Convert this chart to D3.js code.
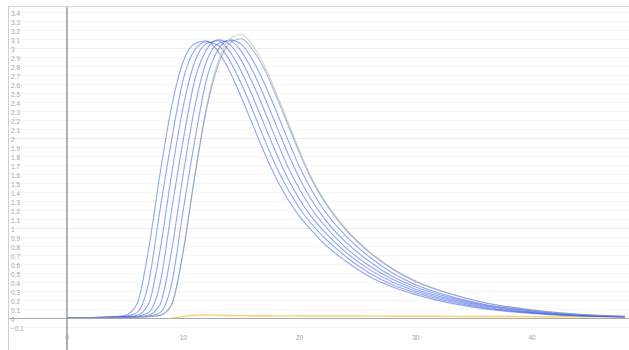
<!DOCTYPE html>
<html>
<head>
<meta charset="utf-8">
<script src="https://cdn.jsdelivr.net/npm/d3@7"></script>
<style>
  html, body { margin: 0; padding: 0; background: #fff; }
  svg { display: block; font-family: "Liberation Sans", Arial, sans-serif; }
</style>
</head>
<body>
<svg id="chart" width="629" height="350"></svg>
<script>
// Shared sample positions along the horizontal axis
const xs = [0, 2, 4, 5, 6, 7, 8, 9, 10, 11, 12, 13, 14, 15, 16, 17, 18, 19, 20, 21, 22, 24, 26, 28, 30, 33, 36, 40, 44, 48];

// Response curves
const seriesA = [0.005, 0.006, 0.015, 0.03, 0.15, 0.75, 1.6, 2.35, 2.85, 3.05, 3.08, 2.96, 2.74, 2.45, 2.14, 1.83, 1.55, 1.32, 1.13, 0.98, 0.84, 0.63, 0.46, 0.345, 0.26, 0.165, 0.1, 0.05, 0.022, 0.011];
const seriesB = [0.005, 0.005, 0.01, 0.02, 0.06, 0.38, 1.2, 1.98, 2.65, 2.98, 3.07, 3.03, 2.86, 2.6, 2.3, 1.98, 1.68, 1.43, 1.22, 1.05, 0.91, 0.68, 0.5, 0.37, 0.28, 0.18, 0.11, 0.055, 0.025, 0.012];
const seriesC = [0.005, 0.005, 0.01, 0.015, 0.03, 0.15, 0.75, 1.6, 2.35, 2.85, 3.05, 3.08, 2.96, 2.74, 2.45, 2.14, 1.83, 1.55, 1.32, 1.13, 0.98, 0.73, 0.54, 0.4, 0.3, 0.195, 0.12, 0.06, 0.028, 0.013];
const seriesD = [0.005, 0.005, 0.008, 0.01, 0.02, 0.06, 0.38, 1.2, 1.98, 2.65, 2.98, 3.09, 3.04, 2.86, 2.6, 2.3, 1.98, 1.68, 1.43, 1.22, 1.05, 0.78, 0.58, 0.43, 0.32, 0.21, 0.13, 0.065, 0.03, 0.014];
const seriesE = [0.005, 0.005, 0.006, 0.01, 0.015, 0.03, 0.15, 0.75, 1.6, 2.35, 2.85, 3.05, 3.08, 2.96, 2.74, 2.45, 2.14, 1.83, 1.55, 1.32, 1.13, 0.84, 0.63, 0.46, 0.345, 0.225, 0.14, 0.075, 0.034, 0.016];
const seriesF = [0.005, 0.005, 0.005, 0.008, 0.01, 0.02, 0.06, 0.38, 1.2, 1.98, 2.65, 2.98, 3.09, 3.04, 2.86, 2.6, 2.3, 1.98, 1.68, 1.43, 1.22, 0.91, 0.68, 0.5, 0.37, 0.24, 0.15, 0.08, 0.038, 0.017];
const seriesG = [0.005, 0.005, 0.005, 0.006, 0.01, 0.015, 0.03, 0.15, 0.75, 1.6, 2.35, 2.85, 3.1, 3.15, 3.02, 2.8, 2.5, 2.18, 1.86, 1.57, 1.34, 0.99, 0.74, 0.55, 0.41, 0.27, 0.17, 0.09, 0.042, 0.019];
// Low baseline trace
const baseline = [null, null, null, null, null, null, null, 0.0, 0.015, 0.03, 0.035, 0.03, 0.028, 0.026, 0.025, 0.025, 0.024, 0.024, 0.023, 0.023, 0.022, 0.022, 0.021, 0.02, 0.02, 0.018, 0.017, 0.015, 0.013, 0.012];

const yTicks = [-0.1, 0, 0.1, 0.2, 0.3, 0.4, 0.5, 0.6, 0.7, 0.8, 0.9, 1, 1.1, 1.2, 1.3, 1.4, 1.5, 1.6, 1.7, 1.8, 1.9, 2, 2.1, 2.2, 2.3, 2.4, 2.5, 2.6, 2.7, 2.8, 2.9, 3, 3.1, 3.2, 3.3, 3.4];
const xTicks = [0, 10, 20, 30, 40];

const svg = d3.select("#chart");
const W = 629, H = 350;

const x = d3.scaleLinear().domain([0, 40]).range([67, 532]);
const y = d3.scaleLinear().domain([0, 3]).range([318, 48]);

// Frame
svg.append("line").attr("x1", 8.5).attr("x2", 8.5).attr("y1", 6.5).attr("y2", H)
  .attr("stroke", "#cfcfcf").attr("stroke-width", 1);
svg.append("line").attr("x1", 8).attr("x2", W).attr("y1", 6.5).attr("y2", 6.5)
  .attr("stroke", "#d6d6d6").attr("stroke-width", 1);

// Horizontal gridlines
svg.append("g").selectAll("line").data(yTicks.filter(d => d !== 0)).join("line")
  .attr("x1", 9).attr("x2", W)
  .attr("y1", d => Math.round(y(d)) + 0.5).attr("y2", d => Math.round(y(d)) + 0.5)
  .attr("stroke", d => Number.isInteger(d) ? "#ececec" : "#f6f6f6")
  .attr("stroke-width", 1);

// Y tick labels
svg.append("g").selectAll("text").data(yTicks).join("text")
  .attr("x", 11).attr("y", d => y(d) + 2.5)
  .attr("dominant-baseline", "middle")
  .attr("font-size", 6.5).attr("fill", "#a8a8a8")
  .text(d => d3.format("~g")(d));

// X tick labels
svg.append("g").selectAll("text").data(xTicks).join("text")
  .attr("x", d => x(d)).attr("y", 338)
  .attr("text-anchor", "middle").attr("dominant-baseline", "middle")
  .attr("font-size", 6.5).attr("fill", "#a0a0a0")
  .text(d => d);

// Axes lines
svg.append("line").attr("x1", 9).attr("x2", W).attr("y1", y(0) + 0.5).attr("y2", y(0) + 0.5)
  .attr("stroke", "#a9a9a9").attr("stroke-width", 1.2);
svg.append("line").attr("x1", x(0)).attr("x2", x(0)).attr("y1", 7).attr("y2", H)
  .attr("stroke", "#9a9a9a").attr("stroke-width", 1.5);

const line = d3.line()
  .defined(d => d[1] !== null)
  .x(d => x(d[0])).y(d => y(d[1]))
  .curve(d3.curveMonotoneX);

const plot = svg.append("g");

// Baseline trace
plot.append("path")
  .attr("d", line(xs.map((v, i) => [v, baseline[i]])))
  .attr("fill", "none").attr("stroke", "#f0c040").attr("stroke-opacity", 0.75).attr("stroke-width", 1.4);

const blues = [seriesA, seriesB, seriesC, seriesD, seriesE, seriesF];
plot.selectAll("path.curve").data(blues).join("path")
  .attr("class", "curve")
  .attr("d", s => line(xs.map((v, i) => [v, s[i]])))
  .attr("fill", "none").attr("stroke", "#3a5ce0").attr("stroke-opacity", 0.55).attr("stroke-width", 1.1);

plot.append("path")
  .attr("d", line(xs.map((v, i) => [v, seriesG[i]])))
  .attr("fill", "none").attr("stroke", "#c9cc9a").attr("stroke-opacity", 0.8).attr("stroke-width", 1.1);
plot.append("path")
  .attr("d", line(xs.map((v, i) => [v, seriesG[i] * 0.985])))
  .attr("fill", "none").attr("stroke", "#3a5ce0").attr("stroke-opacity", 0.45).attr("stroke-width", 1.1);
</script>
</body>
</html>
